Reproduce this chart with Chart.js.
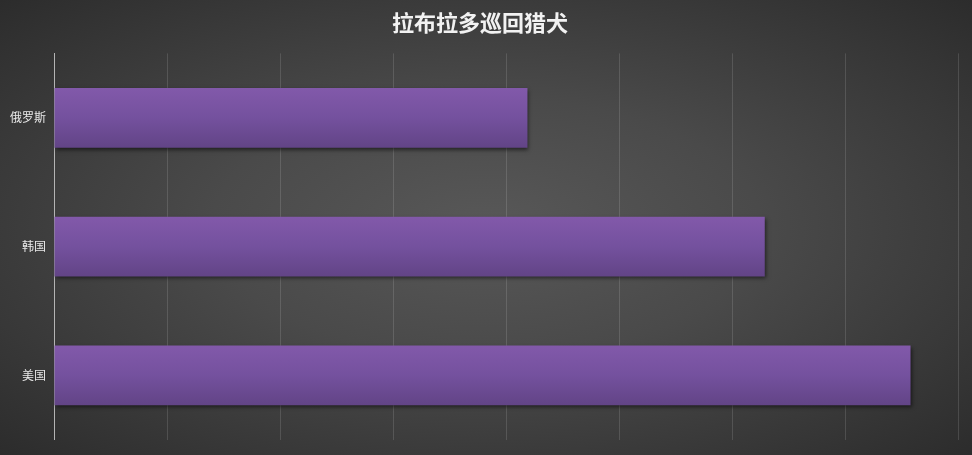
<!DOCTYPE html>
<html>
<head>
<meta charset="utf-8">
<script src="https://cdn.jsdelivr.net/npm/chart.js@4.4.1/dist/chart.umd.min.js"></script>
<style>
  html, body { margin: 0; padding: 0; }
  body {
    width: 972px; height: 455px; overflow: hidden;
    background: radial-gradient(ellipse at 50% 50%, #585858 0%, #4a4a4a 40%, #2c2c2c 100%);
  }
  #wrap { width: 972px; height: 455px; position: relative; }
</style>
</head>
<body>
<div id="wrap"><canvas id="myChart"></canvas></div>
<script>
let countries = ['俄罗斯', '韩国', '美国']
let values = [4.19, 6.29, 7.58]
let chartTitle = '拉布拉多巡回猎犬'

let ctx = document.querySelector('#myChart').getContext('2d')

// vertical purple gradient per bar, based on the bar's own position
const barFill = (context) => {
    const chart = context.chart
    const yScale = chart.scales.y
    if (!chart.chartArea || !yScale) return '#7552a0'
    const el = context.element
    let top, bottom
    if (el && el.height) {
        top = el.y - el.height / 2
        bottom = el.y + el.height / 2
    } else {
        const c = yScale.getPixelForValue(context.dataIndex)
        top = c - 30
        bottom = c + 30
    }
    const g = chart.ctx.createLinearGradient(0, top, 0, bottom)
    g.addColorStop(0, '#8259aa')
    g.addColorStop(0.5, '#74519e')
    g.addColorStop(1, '#624486')
    return g
}

const barShadow = {
    id: 'barShadow',
    beforeDatasetsDraw(chart) {
        chart.ctx.save()
        chart.ctx.shadowColor = 'rgba(0,0,0,0.55)'
        chart.ctx.shadowBlur = 4
        chart.ctx.shadowOffsetX = 1
        chart.ctx.shadowOffsetY = 2
    },
    afterDatasetsDraw(chart) {
        chart.ctx.restore()
    }
}

let dogChart = new Chart(ctx, {
    type: 'bar',
    data: {
        labels: countries,
        datasets: [{
            label: chartTitle,
            data: values,
            backgroundColor: barFill,
            borderWidth: 0,
            categoryPercentage: 1,
            barPercentage: 0.464
        }]
    },
    options: {
        indexAxis: 'y',
        responsive: true,
        maintainAspectRatio: false,
        animation: false,
        layout: { padding: { left: 2, right: 14, top: 0, bottom: 14 } },
        plugins: {
            legend: { display: false },
            tooltip: { enabled: false },
            title: {
                display: true,
                text: chartTitle,
                color: '#f2f2f2',
                font: { family: '"Noto Sans CJK SC", sans-serif', size: 22, weight: 'bold' },
                padding: { top: 9, bottom: 18 }
            }
        },
        scales: {
            x: {
                min: 0,
                max: 8,
                ticks: { display: false, stepSize: 1 },
                grid: { color: 'rgba(255,255,255,0.13)', drawTicks: false, lineWidth: 1 },
                border: { display: false }
            },
            y: {
                ticks: {
                    color: '#e8e8e8',
                    padding: 8,
                    font: { family: '"Noto Sans CJK SC", sans-serif', size: 12 }
                },
                grid: { display: false, drawTicks: false },
                border: { display: true, color: '#b4b4b4', width: 1 }
            }
        }
    },
    plugins: [barShadow]
})
</script>
</body>
</html>
